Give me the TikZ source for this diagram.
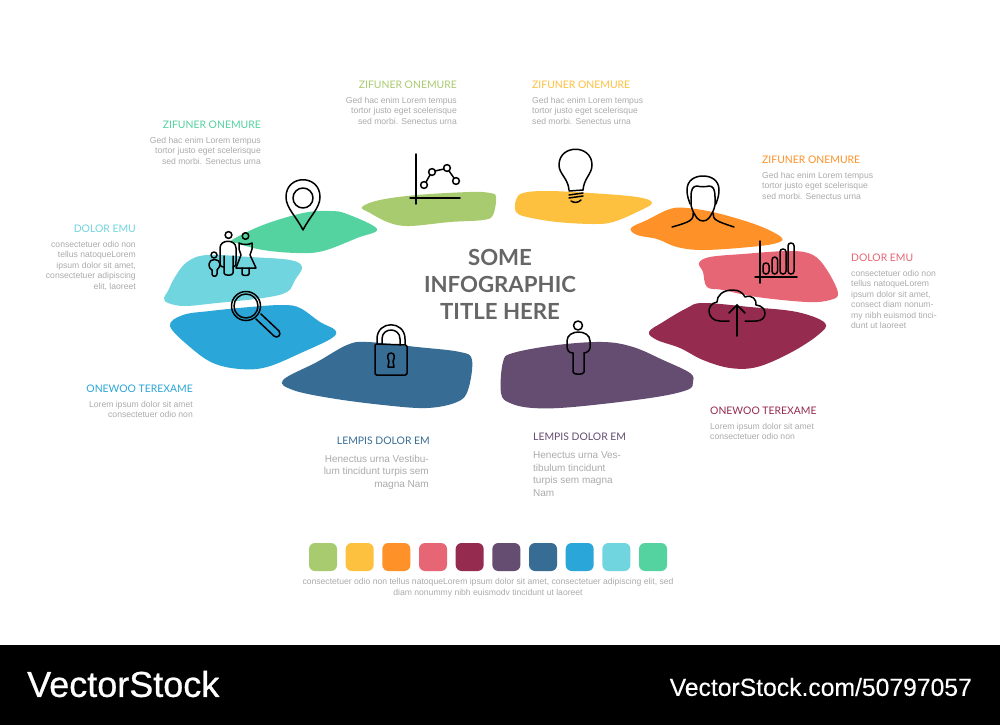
\documentclass[tikz,border=0pt]{standalone}
\usepackage{fontspec}
\setmainfont{Liberation Sans}
\newfontfamily\headf{Lato}
\newfontfamily\logof[FakeBold=0.7]{Liberation Sans}
\newfontfamily\urlf[FakeBold=0.25]{Liberation Sans}
\definecolor{cOlive}{HTML}{A9CB70}
\definecolor{cYellow}{HTML}{FDC13F}
\definecolor{cOrange}{HTML}{FE9229}
\definecolor{cPink}{HTML}{E76675}
\definecolor{cWine}{HTML}{952B4F}
\definecolor{cPurple}{HTML}{654D71}
\definecolor{cNavy}{HTML}{376D95}
\definecolor{cBlue}{HTML}{2BA6D8}
\definecolor{cCyan}{HTML}{71D5DF}
\definecolor{cGreen}{HTML}{54D2A0}
\definecolor{cBody}{HTML}{ABABAB}
\definecolor{cTitle}{HTML}{666666}
\tikzset{
 blob/.style={fill=#1,draw=none},
 icon/.style={draw=black,line width=1.5pt,line cap=round,line join=round},
 head/.style={font=\headf\fontsize{10.4}{12}\selectfont,text=#1,inner sep=0pt},
 bodyr/.style={font=\fontsize{8.6}{10.4}\selectfont,text=cBody,inner sep=0pt,align=right,anchor=north east},
 bodyl/.style={font=\fontsize{8.6}{10.4}\selectfont,text=cBody,inner sep=0pt,align=left,anchor=north west},
 bigr/.style={font=\fontsize{10}{12.5}\selectfont,text=cBody,inner sep=0pt,align=right,anchor=north east},
 bigl/.style={font=\fontsize{10}{12.5}\selectfont,text=cBody,inner sep=0pt,align=left,anchor=north west},
 swatch/.style={fill=#1,draw=none,rounded corners=6pt,minimum size=28pt,inner sep=0pt},
}
\begin{document}
\begin{tikzpicture}[x=1pt,y=-1pt]
\useasboundingbox (0,0) rectangle (1000,725);
\fill[white] (0,0) rectangle (1000,725);
\fill[black] (0,645) rectangle (1000,725);
% blobs
\fill[blob=cGreen] plot[smooth cycle,tension=0.6] coordinates {(232,240)(263,225)(303,213)(330,211)(347,214)(377,229)(357,238)(323,251)(297,253)(263,250)(236,243)};
\fill[blob=cOlive] plot[smooth cycle,tension=0.6] coordinates {(362,207)(380,200)(417,195)(470,192)(490,193)(496,197)(493,215)(483,220)(450,222)(410,226)(390,223)(370,213)};
\fill[blob=cCyan] plot[smooth cycle,tension=0.6] coordinates {(168,291)(175,277)(187,262)(207,255)(250,257)(290,260)(302,267)(295,280)(287,292)(263,298)(217,303)(185,306)(168,303)(164,298)};
\fill[blob=cBlue] plot[smooth cycle,tension=0.6] coordinates {(170,326)(183,315)(210,311)(250,307)(283,305)(300,308)(320,322)(335,330)(332,338)(303,352)(267,367)(240,369)(213,363)(190,347)};
\fill[blob=cNavy] plot[smooth cycle,tension=0.6] coordinates {(283,380)(317,362)(347,345)(367,342)(417,347)(460,352)(472,360)(468,390)(457,402)(427,408)(383,405)(330,398)(293,390)};
\fill[blob=cYellow] plot[smooth cycle,tension=0.6] coordinates {(516,200)(523,193)(547,191)(590,193)(637,197)(652,203)(637,212)(613,222)(593,224)(557,222)(527,217)(516,212)};
\fill[blob=cOrange] plot[smooth cycle,tension=0.6] coordinates {(631,228)(647,220)(670,209)(687,208)(717,213)(757,225)(781,237)(777,243)(750,247)(703,250)(677,247)(657,239)(637,235)};
\fill[blob=cPink] plot[smooth cycle,tension=0.6] coordinates {(699,263)(710,257)(743,254)(790,251)(813,255)(827,270)(838,293)(830,300)(807,302)(757,297)(723,290)(707,287)(703,272)};
\fill[blob=cWine] plot[smooth cycle,tension=0.6] coordinates {(649,332)(663,322)(687,308)(703,303)(750,307)(797,312)(825,323)(818,335)(790,353)(757,367)(730,368)(703,360)(680,348)(657,340)};
\fill[blob=cPurple] plot[smooth cycle,tension=0.6] coordinates {(501,393)(503,362)(513,353)(557,345)(603,342)(633,347)(663,360)(690,373)(693,382)(687,390)(650,398)(573,407)(533,408)(510,403)};
% pin
\draw[icon] (303,230) .. controls (296,216) and (286,208) .. (286,197) .. controls (286,174) and (320,174) .. (320,197) .. controls (320,208) and (310,216) .. (303,230) -- cycle;
\draw[icon] (303,198) circle (10);
% line chart
\draw[icon] (416,154) -- (416,204);
\draw[icon] (410,198) -- (460,198);
\draw[icon] (424,185) circle (3.4);
\draw[icon] (432,172) circle (3.4);
\draw[icon] (447,168) circle (3.4);
\draw[icon] (456,181) circle (3.4);
\draw[icon] (426,182) -- (430,175);
\draw[icon] (435,171) -- (444,169);
\draw[icon] (449,171) -- (454,178);
% family
\draw[icon] (228.5,235) circle (3.4);
\draw[icon] (245.5,236) circle (3.3);
\draw[icon] (214,255) circle (3);
\draw[icon] (224,256) -- (224,273) .. controls (224,276) and (233,276) .. (233,273) -- (233,256);
\draw[icon] (224,267) .. controls (220,267) and (220,265) .. (220,261) -- (220,248) .. controls (220,239) and (236,239) .. (236,248) -- (236,261) .. controls (236,265) and (236,267) .. (233,267);
\draw[icon] (239,243) .. controls (242,245) and (249,245) .. (252,243) -- (252,249) -- (250,255) -- (256,268) -- (236,268) -- (241,255) -- (239,249) -- cycle;
\draw[icon] (242,268) -- (242,274) .. controls (242,276) and (249,276) .. (249,274) -- (249,268);
\draw[icon] (212,270) .. controls (209,268) and (209,266) .. (209,264) .. controls (209,258) and (220,258) .. (220,264) .. controls (220,266) and (219,268) .. (217,270) -- (217,274) .. controls (217,277) and (212,277) .. (212,274) -- cycle;
% magnifier
\draw[icon] (246,306) circle (14.5);
\draw[icon] (246,306) circle (12);
\draw[icon] (256,319) -- (274,336) .. controls (277,339) and (282,335) .. (279,331) -- (261,314);
% lock
\draw[icon,rounded corners=1.5pt] (375,344) -- (375,375) -- (407,375) -- (407,345) -- cycle;
\draw[icon] (377,344) -- (377,339) .. controls (377,320) and (405,320) .. (405,339) -- (405,345);
\draw[icon] (382,344) -- (382,339) .. controls (382,327) and (400,327) .. (400,339) -- (400,345);
\draw[icon] (391,353) .. controls (387,353) and (387,358) .. (389,361) -- (388,367) -- (394,367) -- (393,361) .. controls (395,358) and (395,353) .. (391,353) -- cycle;
% bulb
\draw[icon] (569,190) .. controls (568,178) and (559,174) .. (559,165) .. controls (559,144) and (592,144) .. (592,165) .. controls (592,174) and (584,178) .. (583,190);
\draw[icon] (569,191) -- (583,190); \draw[icon] (569,195) -- (583,193);
\draw[icon] (569,198) -- (583,196); \draw[icon] (571,201) .. controls (574,203) and (578,203) .. (581,200);
% person head
\draw[icon] (690,204) .. controls (689,200) and (687,197) .. (687,190) .. controls (687,180) and (695,176) .. (703,176) .. controls (711,176) and (719,180) .. (719,190) .. controls (719,197) and (717,200) .. (716,204);
\draw[icon] (691,197) .. controls (691,189) and (693,186) .. (697,186) .. controls (701,187) and (705,187) .. (709,186) .. controls (713,186) and (715,189) .. (715,197);
\draw[icon] (691,197) -- (691,205) .. controls (692,211) and (695,215) .. (697,218) .. controls (700,222) and (706,222) .. (709,218) .. controls (711,215) and (714,211) .. (715,205) -- (715,197);
\draw[icon] (693,213) .. controls (694,220) and (690,222) .. (672,227);
\draw[icon] (713,213) .. controls (713,220) and (716,221) .. (734,227);
% bars
\draw[icon] (760,241) -- (760,283);
\draw[icon] (755,277) -- (797,277);
\draw[icon,rounded corners=2.8pt] (763,274) rectangle (769,263);
\draw[icon,rounded corners=2.8pt] (772,274) rectangle (777.5,257);
\draw[icon,rounded corners=2.8pt] (780,274) rectangle (786,249);
\draw[icon,rounded corners=2.8pt] (788,274) rectangle (794,243);
% cloud
\draw[icon] (729,321) -- (720,321) .. controls (707,321) and (705,304) .. (717,302) .. controls (717,296) and (722,290) .. (733,290) .. controls (739,290) and (743,293) .. (745,297) .. controls (752,294) and (757,300) .. (756,305) .. controls (768,306) and (768,321) .. (756,321) -- (745,321);
\draw[icon] (737,336) -- (737,305);
\draw[icon] (729,313) -- (737,305) -- (745,313);
% standing person
\draw[icon] (578,325.5) circle (4.5);
\draw[icon] (573,353) -- (573,372) .. controls (573,375) and (584,375) .. (584,372) -- (584,353);
\draw[icon] (573,353) .. controls (569,353) and (567,350) .. (567,348) -- (567,341) .. controls (567,329) and (590,329) .. (590,341) -- (590,348) .. controls (590,350) and (587,353) .. (584,353);
% title
\node[font=\headf\bfseries\fontsize{22.2}{27}\selectfont,text=cTitle,align=center,inner sep=0pt] (title) at (500,284) {SOME\\INFOGRAPHIC\\TITLE HERE};
% labels
\node[head=cOlive,anchor=east] (h1) at (457,84.5) {ZIFUNER ONEMURE};
\node[bodyr] (b1) at (457,97) {Ged hac enim Lorem tempus\\tortor justo eget scelerisque\\sed morbi. Senectus urna};
\node[head=cYellow,anchor=west] (h2) at (532,84.5) {ZIFUNER ONEMURE};
\node[bodyl] (b2) at (532,97) {Ged hac enim Lorem tempus\\tortor justo eget scelerisque\\sed morbi. Senectus urna};
\node[head=cGreen,anchor=east] (h3) at (261,124.5) {ZIFUNER ONEMURE};
\node[bodyr] (b3) at (261,137) {Ged hac enim Lorem tempus\\tortor justo eget scelerisque\\sed morbi. Senectus urna};
\node[head=cOrange,anchor=west] (h4) at (762,159.5) {ZIFUNER ONEMURE};
\node[bodyl] (b4) at (762,172) {Ged hac enim Lorem tempus\\tortor justo eget scelerisque\\sed morbi. Senectus urna};
\node[head=cCyan,anchor=east] (h5) at (136,228.5) {DOLOR EMU};
\node[bodyr] (b5) at (136,241) {consectetuer odio non\\tellus natoqueLorem\\ipsum dolor sit amet,\\consectetuer adipiscing\\elit, laoreet};
\node[head=cPink,anchor=west] (h6) at (851,257.5) {DOLOR EMU};
\node[bodyl] (b6) at (851,270) {consectetuer odio non\\tellus natoqueLorem\\ipsum dolor sit amet,\\consect diam nonum-\\my nibh euismod tinci-\\dunt ut laoreet};
\node[head=cBlue,anchor=east] (h7) at (193,388.5) {ONEWOO TEREXAME};
\node[bodyr] (b7) at (193,401) {Lorem ipsum dolor sit amet\\consectetuer odio non};
\node[head=cWine,anchor=west] (h8) at (710,410.5) {ONEWOO TEREXAME};
\node[bodyl] (b8) at (710,423) {Lorem ipsum dolor sit amet\\consectetuer odio non};
\node[head=cNavy,anchor=east] (h9) at (430,440.5) {LEMPIS DOLOR EM};
\node[bigr] (b9) at (429,455) {Henectus urna Vestibu-\\lum tincidunt turpis sem\\magna Nam};
\node[head=cPurple,anchor=west] (h10) at (533,436.5) {LEMPIS DOLOR EM};
\node[bigl] (b10) at (533,451.5) {Henectus urna Ves-\\tibulum tincidunt\\turpis sem magna\\Nam};
% swatches
\foreach \n/\c [count=\i from 0] in {s1/cOlive,s2/cYellow,s3/cOrange,s4/cPink,s5/cWine,s6/cPurple,s7/cNavy,s8/cBlue,s9/cCyan,s10/cGreen}
  \node[swatch=\c] (\n) at ({323+36.67*\i},557) {};
\node[font=\fontsize{8.6}{11}\selectfont,text=cBody,align=center,inner sep=0pt] (cap) at (488,588) {consectetuer odio non tellus natoqueLorem ipsum dolor sit amet, consectetuer adipiscing elit, sed\\diam nonummy nibh euismodv tincidunt ut laoreet};
% footer
\node[font=\logof\fontsize{36}{42}\selectfont,text=white,anchor=west,inner sep=0pt] (vs) at (27,684) {VectorStock};
\node[font=\urlf\fontsize{24.7}{29}\selectfont,text=white,anchor=east,inner sep=0pt] (url) at (972,687) {VectorStock.com/50797057};
\end{tikzpicture}
\end{document}
